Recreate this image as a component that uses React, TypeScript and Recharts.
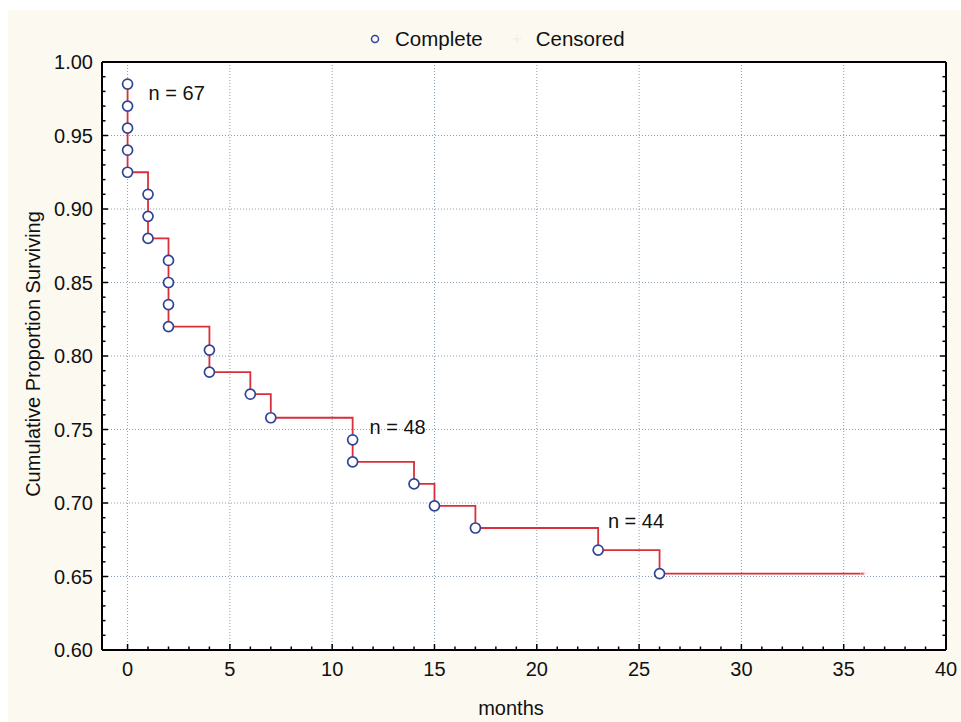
import {
  CartesianGrid,
  ComposedChart,
  Legend,
  Line,
  ReferenceDot,
  Scatter,
  XAxis,
  YAxis,
} from "recharts";

// Kaplan-Meier estimate
const completeMonths = [0, 0, 0, 0, 0, 1, 1, 1, 2, 2, 2, 2, 4, 4, 6, 7, 11, 11, 14, 15, 17, 23, 26];
const completeSurvival = [
  0.985, 0.97, 0.955, 0.94, 0.925, 0.91, 0.895, 0.88, 0.865, 0.85, 0.835, 0.82, 0.804, 0.789,
  0.774, 0.758, 0.743, 0.728, 0.713, 0.698, 0.683, 0.668, 0.652,
];
const censoredMonths = [36];
const censoredSurvival = [0.652];

const xMajorTicks = [0, 5, 10, 15, 20, 25, 30, 35, 40];
const yMajorTicks = [0.6, 0.65, 0.7, 0.75, 0.8, 0.85, 0.9, 0.95, 1.0];

const sampleLabels = ["n = 67", "n = 48", "n = 44"];
const sampleLabelMonths = [2.4, 13.2, 24.85];
const sampleLabelSurvival = [0.979, 0.752, 0.688];

const FONT = '"Liberation Sans", Arial, Helvetica, sans-serif';
const FS = 20;
const LINE_RED = "#d92f3a";
const MARKER_BLUE = "#2f4497";
const GRID = "#8a9db3";

const complete = completeMonths.map((x, i) => ({ x, y: completeSurvival[i] }));
const censored = censoredMonths.map((x, i) => ({ x, y: censoredSurvival[i] }));
const stepData = [...complete, ...censored];
const annotations = sampleLabels.map((text, i) => ({
  text,
  x: sampleLabelMonths[i],
  y: sampleLabelSurvival[i],
}));

// minor ticks every month / every 0.01
const xMinorTicks = Array.from({ length: 41 }, (_, i) => i);
const yMinorTicks = Array.from({ length: 41 }, (_, i) => Math.round((0.6 + i * 0.01) * 100) / 100);

const isMajorX = (v: number) => v % 5 === 0;
const isMajorY = (v: number) => Math.abs(v * 20 - Math.round(v * 20)) < 1e-6;

function BottomTick(props: any) {
  const { x, y, payload } = props;
  const major = isMajorX(payload.value);
  return (
    <g>
      <line x1={x} x2={x} y1={y} y2={y - (major ? 6 : 3.5)} stroke="#000" strokeWidth={1.5} />
      {major && (
        <text x={x} y={y + 25.5} textAnchor="middle" fontSize={FS} fontFamily={FONT} fill="#111">
          {payload.value}
        </text>
      )}
    </g>
  );
}

function TopTick(props: any) {
  const { x, y, payload } = props;
  const major = isMajorX(payload.value);
  return <line x1={x} x2={x} y1={y} y2={y + (major ? 6 : 3.5)} stroke="#000" strokeWidth={1.5} />;
}

function LeftTick(props: any) {
  const { x, y, payload } = props;
  const major = isMajorY(payload.value);
  return (
    <g>
      <line x1={x} x2={x + (major ? 6 : 3.5)} y1={y} y2={y} stroke="#000" strokeWidth={1.5} />
      {major && (
        <text x={x - 9} y={y + 7} textAnchor="end" fontSize={FS} fontFamily={FONT} fill="#111">
          {payload.value.toFixed(2)}
        </text>
      )}
    </g>
  );
}

function RightTick(props: any) {
  const { x, y, payload } = props;
  const major = isMajorY(payload.value);
  return <line x1={x} x2={x - (major ? 6 : 3.5)} y1={y} y2={y} stroke="#000" strokeWidth={1.5} />;
}

function CompleteDot(props: any) {
  return (
    <circle cx={props.cx} cy={props.cy} r={5} fill="#fff" stroke={MARKER_BLUE} strokeWidth={1.7} />
  );
}

function CensoredMark(props: any) {
  const { cx, cy } = props;
  return (
    <g stroke="#f1c9c4" strokeWidth={1} strokeDasharray="1 1.5">
      <line x1={cx - 4} x2={cx + 4} y1={cy} y2={cy} />
      <line x1={cx} x2={cx} y1={cy - 4} y2={cy + 4} />
    </g>
  );
}

function renderLegend() {
  return (
    <div
      style={{
        display: "flex",
        alignItems: "center",
        paddingLeft: 370,
        fontFamily: FONT,
        fontSize: FS + 0.5,
        color: "#111",
      }}
    >
      <svg width={10} height={10}>
        <circle cx={5} cy={5} r={3.5} fill="#fff" stroke={MARKER_BLUE} strokeWidth={1.5} />
      </svg>
      <span style={{ marginLeft: 15 }}>Complete</span>
      <svg width={10} height={10} style={{ marginLeft: 29 }}>
        <g stroke="#f1d3cc" strokeWidth={1} strokeDasharray="1 1.5">
          <line x1={1} x2={9} y1={5} y2={5} />
          <line x1={5} x2={5} y1={1} y2={9} />
        </g>
      </svg>
      <span style={{ marginLeft: 14 }}>Censored</span>
    </div>
  );
}

const axisLine = { stroke: "#000", strokeWidth: 2 };

export default function App() {
  return (
    <div style={{ position: "relative", width: 961, height: 722, background: "#fff" }}>
      <style>{"body{margin:0}"}</style>
      <div
        style={{ position: "absolute", left: 8, top: 10, right: 0, bottom: 0, background: "#fcf9f1" }}
      />
      <div style={{ position: "absolute", left: 0, top: 0 }}>
        <ComposedChart width={961} height={722} margin={{ top: 61, right: 14, bottom: 71, left: 101 }}>
          <CartesianGrid
            fill="#fff"
            stroke={GRID}
            strokeDasharray="1 2"
            verticalValues={xMajorTicks}
            horizontalValues={yMajorTicks}
          />
          <XAxis
            dataKey="x"
            type="number"
            domain={[-1.25, 40]}
            allowDataOverflow
            ticks={xMinorTicks}
            interval={0}
            tick={<BottomTick />}
            tickLine={false}
            tickSize={0}
            tickMargin={0}
            height={1}
            axisLine={axisLine}
            label={() => (
              <text x={511} y={715} textAnchor="middle" fontSize={FS} fontFamily={FONT} fill="#111">
                months
              </text>
            )}
          />
          <XAxis
            xAxisId="top"
            orientation="top"
            type="number"
            domain={[-1.25, 40]}
            allowDataOverflow
            ticks={xMinorTicks}
            interval={0}
            tick={<TopTick />}
            tickLine={false}
            tickSize={0}
            tickMargin={0}
            height={1}
            axisLine={axisLine}
          />
          <YAxis
            type="number"
            domain={[0.6, 1.0]}
            allowDataOverflow
            ticks={yMinorTicks}
            interval={0}
            tick={<LeftTick />}
            tickLine={false}
            tickSize={0}
            tickMargin={0}
            width={1}
            axisLine={axisLine}
            label={() => (
              <text
                x={33}
                y={354}
                transform="rotate(-90 33 354)"
                textAnchor="middle"
                dominantBaseline="central"
                fontSize={FS}
                fontFamily={FONT}
                fill="#111"
              >
                Cumulative Proportion Surviving
              </text>
            )}
          />
          <YAxis
            yAxisId="right"
            orientation="right"
            type="number"
            domain={[0.6, 1.0]}
            allowDataOverflow
            ticks={yMinorTicks}
            interval={0}
            tick={<RightTick />}
            tickLine={false}
            tickSize={0}
            tickMargin={0}
            width={1}
            axisLine={axisLine}
          />
          <Legend
            layout="horizontal"
            align="center"
            verticalAlign="middle"
            wrapperStyle={{ top: 27, left: 0, width: 961 }}
            content={renderLegend}
          />
          <Line
            data={stepData}
            dataKey="y"
            type="stepAfter"
            stroke={LINE_RED}
            strokeWidth={1.8}
            dot={false}
            activeDot={false}
            isAnimationActive={false}
          />
          <Scatter data={complete} dataKey="y" shape={<CompleteDot />} isAnimationActive={false} />
          <Scatter data={censored} dataKey="y" shape={<CensoredMark />} isAnimationActive={false} />
          {annotations.map((a) => (
            <ReferenceDot
              key={a.text}
              x={a.x}
              y={a.y}
              r={0}
              shape={(p: any) => (
                <text
                  x={p.cx}
                  y={p.cy}
                  textAnchor="middle"
                  dominantBaseline="central"
                  fontSize={FS}
                  fontFamily={FONT}
                  fill="#111"
                >
                  {a.text}
                </text>
              )}
            />
          ))}
        </ComposedChart>
      </div>
    </div>
  );
}
